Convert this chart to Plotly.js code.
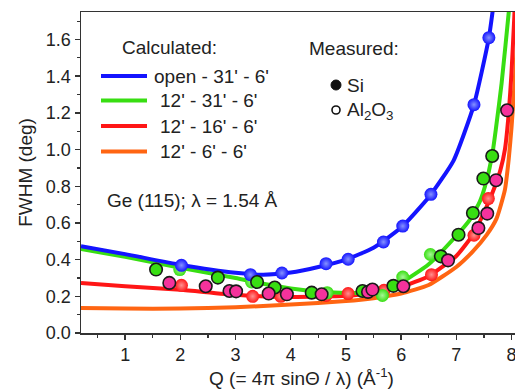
<!DOCTYPE html>
<html><head><meta charset="utf-8">
<script src="https://cdn.plot.ly/plotly-3.0.1.min.js"></script>
<style>html,body{margin:0;padding:0;overflow:hidden;background:#fff}#chart{width:522px;height:389px}</style>
</head><body><div id="chart"></div>
<script>
// Calculated curves: Q (1/Å) and FWHM (deg)
const blueQ  = [0.2, 1.0, 2.0, 3.0, 3.5, 4.0, 4.5, 5.0, 5.5, 6.0, 6.5, 6.95, 7.32, 7.59, 7.72];
const blueW  = [0.473, 0.43, 0.372, 0.328, 0.318, 0.33, 0.36, 0.40, 0.465, 0.575, 0.74, 0.94, 1.245, 1.61, 1.9];
const greenQ = [0.2, 1.0, 2.0, 3.0, 3.5, 4.0, 4.5, 5.0, 5.5, 6.0, 6.5, 7.0, 7.25, 7.43, 7.52, 7.65, 7.72, 7.82, 7.96, 8.02];
const greenW = [0.458, 0.415, 0.355, 0.30, 0.268, 0.243, 0.226, 0.218, 0.225, 0.275, 0.375, 0.53, 0.62, 0.72, 0.80, 0.97, 1.12, 1.36, 1.78, 1.98];
const redQ   = [0.2, 1.0, 2.0, 3.0, 4.0, 5.0, 5.5, 6.0, 6.5, 7.0, 7.31, 7.58, 7.70, 7.80, 7.88, 7.95, 8.0, 8.05, 8.1];
const redW   = [0.272, 0.255, 0.236, 0.208, 0.196, 0.203, 0.218, 0.252, 0.31, 0.42, 0.54, 0.71, 0.80, 0.89, 1.0, 1.2, 1.42, 1.72, 2.1];
const orangeQ = [0.2, 1.0, 2.0, 3.0, 4.0, 5.0, 5.5, 6.0, 6.5, 7.0, 7.3, 7.55, 7.73, 7.88, 7.95, 8.0, 8.06, 8.12];
const orangeW = [0.136, 0.133, 0.133, 0.14, 0.155, 0.174, 0.19, 0.215, 0.262, 0.36, 0.445, 0.535, 0.625, 0.78, 0.95, 1.12, 1.38, 1.7];

// Measured: Si (glossy markers, same colour as curve)
const siBlueQ  = [2.02, 3.27, 3.84, 4.64, 5.04, 5.68, 6.03, 6.54, 7.32, 7.59];
const siBlueW  = [0.369, 0.318, 0.327, 0.378, 0.402, 0.496, 0.583, 0.756, 1.245, 1.61];
const siGreenQ = [1.99, 3.29, 4.66, 5.66, 6.03, 6.53];
const siGreenW = [0.346, 0.278, 0.22, 0.205, 0.305, 0.428];
const siRedQ   = [2.02, 3.31, 3.82, 4.64, 5.04, 5.69, 6.55, 7.32, 7.58];
const siRedW   = [0.26, 0.20, 0.20, 0.205, 0.215, 0.233, 0.318, 0.533, 0.733];
// Measured: Al2O3 (outlined markers)
const alGreenQ = [1.56, 2.68, 3.39, 3.71, 4.38, 5.30, 5.86, 6.72, 7.04, 7.30, 7.49, 7.65];
const alGreenW = [0.346, 0.302, 0.278, 0.248, 0.220, 0.229, 0.257, 0.418, 0.536, 0.654, 0.842, 0.965];
const alRedQ   = [1.80, 2.46, 2.89, 3.01, 3.60, 3.93, 4.56, 5.40, 5.48, 6.04, 6.85, 7.40, 7.56, 7.72, 7.92];
const alRedW   = [0.273, 0.255, 0.229, 0.227, 0.215, 0.211, 0.211, 0.224, 0.237, 0.255, 0.396, 0.572, 0.651, 0.833, 1.214];

const xTicks = [1, 2, 3, 4, 5, 6, 7, 8];
const yTicks = [0.0, 0.2, 0.4, 0.6, 0.8, 1.0, 1.2, 1.4, 1.6];
const calcLabels = ["open - 31' - 6'", "12' - 31' - 6'", "12' - 16' - 6'", "12' - 6' - 6'"];

const C = {blue:'#1414ff', green:'#38de12', red:'#ff1616', orange:'#ff6512', pink:'#f5329c'};
const FONT = 'Liberation Sans, Arial, sans-serif';

function curve(x, y, col){
  return {x:x, y:y, type:'scatter', mode:'lines', line:{color:col, width:4, shape:'spline', smoothing:0.5}, hoverinfo:'skip', showlegend:false};
}
function gloss(x, y, col, mid){
  return {x:x, y:y, type:'scatter', mode:'markers', cliponaxis:true,
    marker:{size:13, color:col, gradient:{type:'radial', color:mid}, line:{width:0}}, showlegend:false};
}
function outl(x, y, col){
  return {x:x, y:y, type:'scatter', mode:'markers', cliponaxis:true,
    marker:{size:12.5, color:col, line:{width:1.6, color:'#1a1a1a'}}, showlegend:false};
}

const traces = [
  curve(orangeQ, orangeW, C.orange),
  curve(redQ, redW, C.red),
  curve(greenQ, greenW, C.green),
  curve(blueQ, blueW, C.blue),
  gloss(siRedQ, siRedW, C.red, '#ff9090'),
  gloss(siGreenQ, siGreenW, C.green, '#a6f896'),
  gloss(siBlueQ, siBlueW, C.blue, '#8592ff'),
  outl(alGreenQ, alGreenW, C.green),
  outl(alRedQ, alRedW, C.pink)
];

// pixel -> paper helpers (plot area: x 81..522, y 12..333)
const L = 81, R = 522, T = 12, B = 333;
const px = v => (v - L) / (R - L);
const py = v => (B - v) / (B - T);

const legendColors = [C.blue, C.green, C.red, C.orange];
const legendY = [76, 100.5, 126, 151.5];
const shapes = [];
const annotations = [];
legendColors.forEach((c, i) => {
  shapes.push({type:'line', xref:'paper', yref:'paper', x0:px(101), x1:px(147), y0:py(legendY[i]), y1:py(legendY[i]), line:{color:c, width:4}});
  annotations.push({xref:'paper', yref:'paper', x:px(i === 0 ? 152 : 158), y:py(legendY[i]), xanchor:'left', yanchor:'middle', showarrow:false, text:calcLabels[i], font:{size:19, color:'#222', family:FONT}});
});
annotations.push({xref:'paper', yref:'paper', x:px(120), y:py(47), xanchor:'left', yanchor:'middle', showarrow:false, text:'Calculated:', font:{size:19, color:'#222', family:FONT}});
annotations.push({xref:'paper', yref:'paper', x:px(307), y:py(48), xanchor:'left', yanchor:'middle', showarrow:false, text:'Measured:', font:{size:19, color:'#222', family:FONT}});
annotations.push({xref:'paper', yref:'paper', x:px(345), y:py(85), xanchor:'left', yanchor:'middle', showarrow:false, text:'Si', font:{size:19, color:'#222', family:FONT}});
annotations.push({xref:'paper', yref:'paper', x:px(345), y:py(111), xanchor:'left', yanchor:'middle', showarrow:false, text:'Al<sub>2</sub>O<sub>3</sub>', font:{size:19, color:'#222', family:FONT}});
annotations.push({xref:'paper', yref:'paper', x:px(105), y:py(201), xanchor:'left', yanchor:'middle', showarrow:false, text:'Ge (115); λ = 1.54 Å', font:{size:19, color:'#222', family:FONT}});
// legend symbols for Si (filled) and Al2O3 (open)
shapes.push({type:'circle', xref:'paper', yref:'paper', x0:px(331), x1:px(341), y0:py(90), y1:py(80), fillcolor:'#111', line:{color:'#111', width:1}});
shapes.push({type:'circle', xref:'paper', yref:'paper', x0:px(332), x1:px(340), y0:py(114), y1:py(106), fillcolor:'rgba(0,0,0,0)', line:{color:'#111', width:1.6}});

const axCol = '#333';
const layout = {
  width:522, height:389,
  margin:{l:L, r:0, t:T, b:389-B},
  paper_bgcolor:'#fff', plot_bgcolor:'#fff',
  font:{family:FONT, color:'#222', size:18},
  showlegend:false,
  xaxis:{
    range:[0.2, 8.19], tickvals:xTicks, ticktext:xTicks.map(String),
    ticks:'outside', ticklen:5, tickwidth:1.5, tickcolor:axCol,
    showline:true, linewidth:1.5, linecolor:axCol, mirror:true,
    showgrid:false, zeroline:false,
    minor:{dtick:0.5, tick0:0, ticks:'outside', ticklen:3, tickwidth:1.2, tickcolor:axCol, showgrid:false},
    tickfont:{size:18, color:'#222'},
    title:{text:'Q (= 4π sinΘ / λ) (Å<sup>-1</sup>)', font:{size:19, color:'#222'}, standoff:9}
  },
  yaxis:{
    range:[0, 1.75], tickvals:yTicks, ticktext:yTicks.map(v => v.toFixed(1)),
    ticks:'outside', ticklen:5, tickwidth:1.5, tickcolor:axCol,
    showline:true, linewidth:1.5, linecolor:axCol, mirror:true,
    showgrid:false, zeroline:false,
    minor:{dtick:0.1, tick0:0, ticks:'outside', ticklen:3, tickwidth:1.2, tickcolor:axCol, showgrid:false},
    tickfont:{size:18, color:'#222'},
    title:{text:'FWHM (deg)', font:{size:19, color:'#222'}, standoff:8}
  },
  shapes:shapes,
  annotations:annotations
};

Plotly.newPlot('chart', traces, layout, {staticPlot:true, displayModeBar:false});
</script></body></html>
